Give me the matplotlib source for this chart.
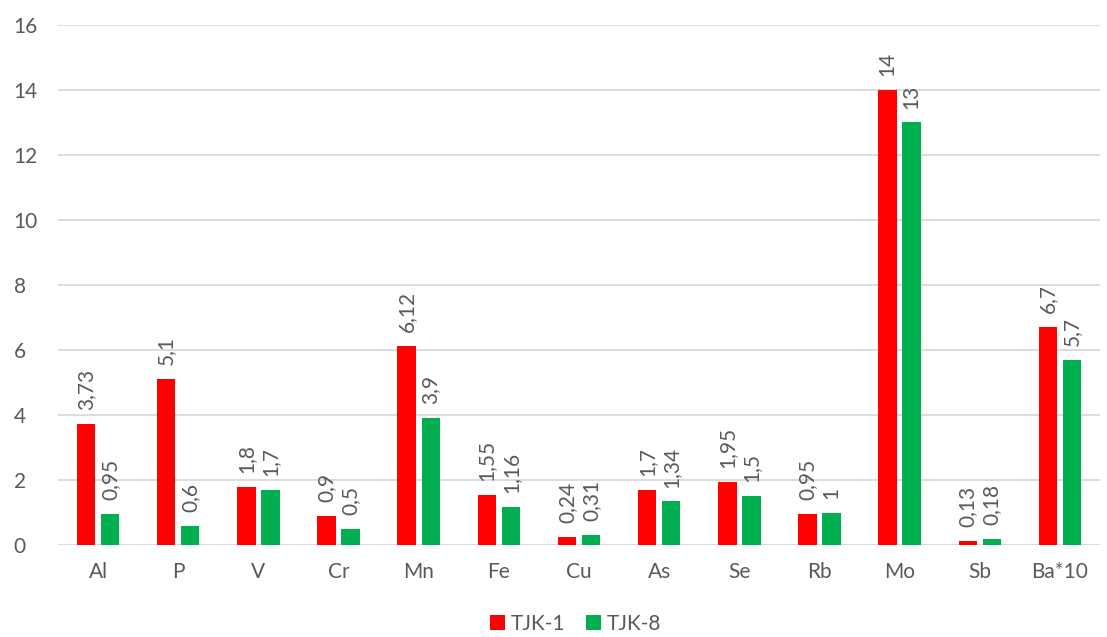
import numpy as np
import matplotlib.pyplot as plt

plt.rcParams['font.family'] = ['Lato', 'DejaVu Sans']

elements = ['Al', 'P', 'V', 'Cr', 'Mn', 'Fe', 'Cu', 'As', 'Se', 'Rb', 'Mo', 'Sb', 'Ba*10']
tjk1 = [3.73, 5.1, 1.8, 0.9, 6.12, 1.55, 0.24, 1.7, 1.95, 0.95, 14, 0.13, 6.7]
tjk8 = [0.95, 0.6, 1.7, 0.5, 3.9, 1.16, 0.31, 1.34, 1.5, 1, 13, 0.18, 5.7]

red = '#ff0000'
green = '#00b050'
txt = '#595959'

fig = plt.figure(figsize=(11.07, 6.37), dpi=100)
ax = fig.add_axes([0.0524, 0.1444, 0.9413, 0.8164])

x = np.arange(len(elements))
w = 0.23
b1 = ax.bar(x - 0.15, tjk1, w, color=red, label='TJK-1', zorder=3)
b2 = ax.bar(x + 0.15, tjk8, w, color=green, label='TJK-8', zorder=3)

def fmt(v):
    return ('%g' % v).replace('.', ',')

for bars, vals in [(b1, tjk1), (b2, tjk8)]:
    for r, v in zip(bars, vals):
        ax.annotate(fmt(v), (r.get_x() + r.get_width() / 2, v),
                    xytext=(0, 10), textcoords='offset points',
                    rotation=90, ha='center', va='bottom',
                    fontsize=15, color=txt)

ax.set_xlim(-0.5, len(elements) - 0.5)
ax.set_ylim(0, 16)
ax.set_yticks(range(0, 17, 2))
ax.set_xticks(x)
ax.set_xticklabels(elements)
ax.tick_params(axis='both', length=0, labelsize=15, colors=txt)
ax.tick_params(axis='x', pad=12)
ax.tick_params(axis='y', pad=32)
for lab in ax.get_yticklabels():
    lab.set_horizontalalignment('left')
ax.grid(axis='y', color='#d9d9d9', linewidth=1.3, zorder=0)
for s in ax.spines.values():
    s.set_visible(False)

fig.legend(handles=[b1, b2], loc='lower center', bbox_to_anchor=(0.52, -0.024),
           ncol=2, frameon=False, fontsize=15, labelcolor=txt,
           handlelength=0.7, handleheight=0.7, handletextpad=0.3, columnspacing=1.0)

fig.savefig('out.png', dpi=100)
